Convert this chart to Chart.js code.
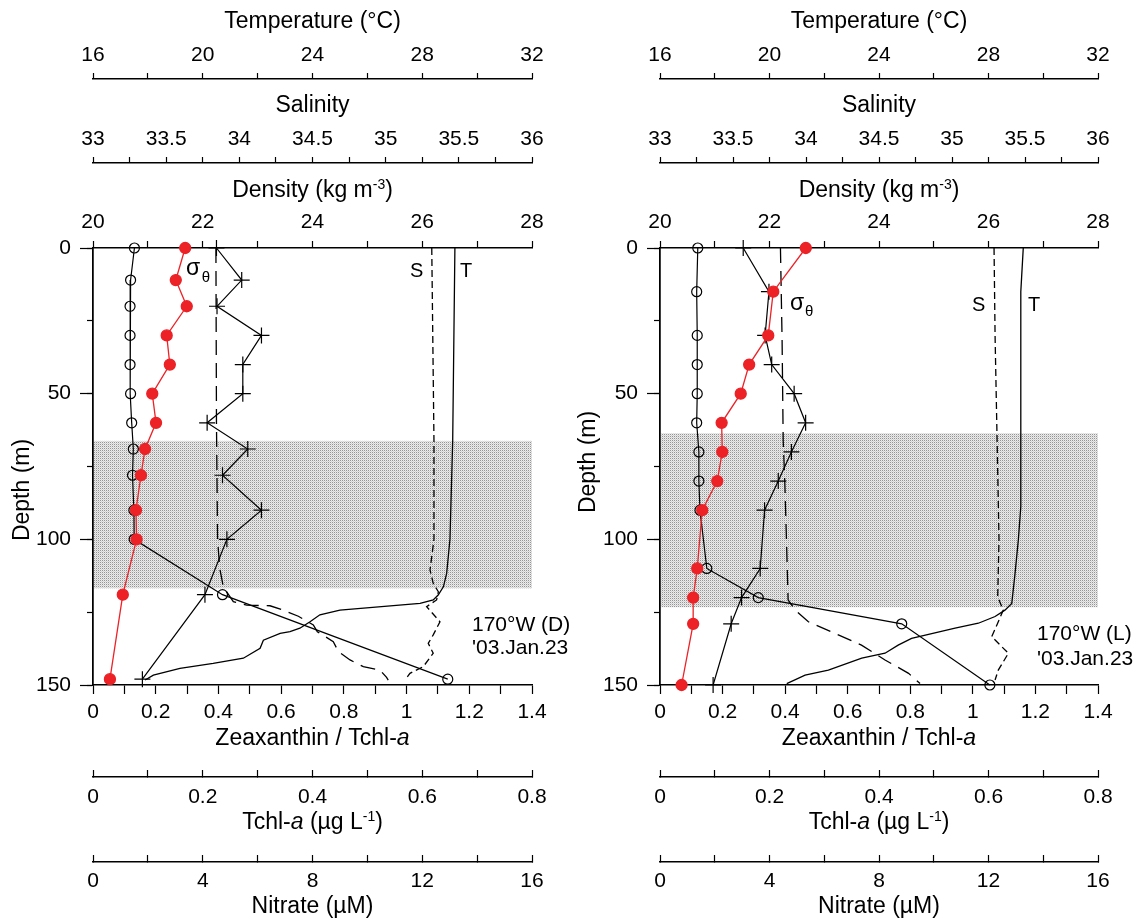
<!DOCTYPE html>
<html>
<head>
<meta charset="UTF-8">
<title>170°W profiles</title>
<script src="https://cdn.jsdelivr.net/npm/chart.js@4.4.1/dist/chart.umd.min.js"></script>
<style>
body { margin: 0; background: #fff; }
canvas { position: absolute; top: 0; }
#left { left: 0; }
#right { left: 570px; }
</style>
</head>
<body>
<canvas id="left" width="600" height="924"></canvas>
<canvas id="right" width="575" height="924"></canvas>
<script>
// ---- station D (bottle samples) ----
var depthD   = [0, 11, 20, 30, 40, 50, 60, 69, 78, 90, 100, 119, 148];
var nitrateD = [1.51, 1.37, 1.35, 1.35, 1.35, 1.37, 1.41, 1.47, 1.44, 1.49, 1.50, 4.72, 12.93];
var zeaD     = [0.294, 0.264, 0.299, 0.235, 0.245, 0.189, 0.201, 0.166, 0.153, 0.137, 0.139, 0.095, 0.054];
var tchlD    = [0.225, 0.271, 0.226, 0.307, 0.273, 0.273, 0.208, 0.282, 0.236, 0.307, 0.244, 0.204, 0.090];
// CTD
var tDepthD = [0, 66, 100, 111.7, 116.3, 119.1, 120.8, 122, 124.3, 125.9, 128.3, 130.5, 131.7, 132.3, 134.6, 137.4, 140.8, 142.6, 144.3, 146.6, 148.3];
var tempD   = [29.19, 29.11, 29.01, 28.89, 28.77, 28.58, 28.40, 27.92, 25.00, 24.27, 23.91, 23.54, 23.18, 22.82, 22.21, 22.09, 21.48, 20.38, 19.17, 18.20, 17.90];
var sDepthD = [0, 66, 100, 103.6, 110.5, 115.1, 118, 120.8, 123.1, 128.3, 132.8, 135.7, 139.1, 143.7, 146, 148.3];
var salD    = [35.315, 35.33, 35.33, 35.321, 35.303, 35.325, 35.36, 35.348, 35.28, 35.371, 35.325, 35.291, 35.325, 35.257, 35.166, 35.132];
var dDepthD = [0, 60, 100, 110, 116.3, 121.4, 122.6, 122.8, 124.3, 126.4, 129.4, 131.7, 135.1, 138.5, 141.4, 143.7, 144.9, 147.4, 148.3];
var sigmaD  = [22.24, 22.25, 22.27, 22.31, 22.375, 22.557, 22.80, 23.225, 23.468, 23.742, 24.015, 24.088, 24.379, 24.47, 24.684, 24.926, 25.23, 25.35, 25.38];
var bandD   = [66.2, 116.8];

// ---- station L ----
var depthL   = [0, 15, 30, 40, 50, 60, 70, 80, 90, 110, 120, 129, 150];
var nitrateL = [1.38, 1.34, 1.36, 1.36, 1.36, 1.34, 1.42, 1.42, 1.46, 1.71, 3.59, 8.83, 12.05];
var zeaL     = [0.466, 0.362, 0.346, 0.285, 0.258, 0.197, 0.199, 0.183, 0.135, 0.119, 0.106, 0.106, 0.069];
var tchlL    = [0.152, 0.199, 0.192, 0.204, 0.245, 0.266, 0.240, 0.216, 0.191, 0.183, 0.149, 0.130, 0.097];
var tDepthL = [0, 10, 15, 88.8, 100.2, 111.7, 122, 124.3, 126.5, 128.8, 130.5, 134, 136.3, 139.1, 140.8, 144.9, 146.6, 149.5];
var tempL   = [29.27, 29.21, 29.18, 29.18, 29.09, 28.97, 28.85, 28.60, 28.24, 27.63, 26.78, 25.19, 24.70, 24.22, 23.37, 22.15, 21.30, 20.63];
var sDepthL = [0, 30, 100, 119.7, 124.3, 128.3, 133.4, 139.1, 144.9, 148.3];
var salL    = [35.288, 35.295, 35.322, 35.313, 35.351, 35.317, 35.272, 35.386, 35.317, 35.295];
var dDepthL = [0, 31.6, 66, 80.7, 100.2, 120.8, 124.3, 128.3, 132.3, 136.3, 141.4, 146, 149.5];
var sigmaL  = [22.20, 22.23, 22.25, 22.28, 22.31, 22.34, 22.47, 22.71, 23.20, 23.68, 24.11, 24.54, 24.75];
var bandL   = [63.6, 123.3];

Chart.defaults.font.family = '"Liberation Sans", Arial, sans-serif';
Chart.defaults.color = '#000';

var FAM = '"Liberation Sans", Arial, sans-serif';
var tickFont = {size: 21};
var red = '#ec2227';

function pts(xs, ys) {
  return xs.map(function (v, i) { return {x: v, y: ys[i]}; });
}

function hAxis(pos, weight, min, max, step, every, h, tl, pad) {
  return {
    type: 'linear', position: pos, weight: weight, min: min, max: max,
    ticks: {
      stepSize: step, autoSkip: false, maxRotation: 0, padding: pad, font: tickFont, color: '#000',
      callback: function (v) {
        var r = Math.round(v / every * 1000) / 1000;
        return Number.isInteger(r) ? String(+v.toFixed(2)) : '';
      }
    },
    grid: {drawOnChartArea: false, tickLength: tl, color: '#000', tickWidth: 1.2},
    border: {color: '#000', width: 1.5},
    afterFit: function (s) { s.height = h; }
  };
}

function vAxis(weight, step, tl, labels, w) {
  return {
    type: 'linear', position: 'left', weight: weight, reverse: true, min: 0, max: 150,
    ticks: {stepSize: step, display: labels, padding: 9, font: tickFont, color: '#000', autoSkip: false},
    grid: {drawOnChartArea: false, tickLength: tl, color: '#000', tickWidth: 1.2},
    border: {color: '#000', width: 1.5},
    afterFit: function (s) { s.width = w; }
  };
}

var axisTitles = [
  {scale: 'xT', from: 'top', off: 28, runs: [['Temperature (°C)']]},
  {scale: 'xS', from: 'top', off: 33, runs: [['Salinity']]},
  {scale: 'xD', from: 'top', off: 34, runs: [['Density (kg m'], ['-3', 'sup'], [')']]},
  {scale: 'xZ', from: 'bottom', off: 32, runs: [['Zeaxanthin / Tchl-'], ['a', 'i']]},
  {scale: 'xC', from: 'bottom', off: 33, runs: [['Tchl-'], ['a', 'i'], [' (µg L'], ['-1', 'sup'], [')']]},
  {scale: 'xN', from: 'bottom', off: 11, runs: [['Nitrate (µM)']]}
];

function runFont(kind) {
  if (kind === 'i') return 'italic 23px ' + FAM;
  if (kind === 'sup') return '14px ' + FAM;
  return '23px ' + FAM;
}

function drawRuns(ctx, runs, cx, y) {
  var w = 0;
  runs.forEach(function (r) { ctx.font = runFont(r[1]); w += ctx.measureText(r[0]).width; });
  var x = cx - w / 2;
  runs.forEach(function (r) {
    ctx.font = runFont(r[1]);
    ctx.fillText(r[0], x, r[1] === 'sup' ? y - 8 : y);
    x += ctx.measureText(r[0]).width;
  });
}

function makePattern() {
  var c = document.createElement('canvas');
  c.width = 2; c.height = 2;
  var g = c.getContext('2d');
  g.fillStyle = '#ebebeb'; g.fillRect(0, 0, 2, 2);
  g.fillStyle = '#959595'; g.fillRect(0, 0, 1, 1);
  g.fillStyle = '#d2d2d2'; g.fillRect(1, 1, 1, 1);
  return c;
}

function decor(st) {
  return {
    id: 'decor',
    beforeDatasetsDraw: function (chart) {
      var ctx = chart.ctx, a = chart.chartArea, y = chart.scales.y;
      var y0 = y.getPixelForValue(st.band[0]), y1 = y.getPixelForValue(st.band[1]);
      ctx.save();
      ctx.fillStyle = ctx.createPattern(makePattern(), 'repeat');
      ctx.fillRect(a.left + 1, y0, a.right - a.left - 1, y1 - y0);
      ctx.restore();
    },
    afterDraw: function (chart) {
      var ctx = chart.ctx, a = chart.chartArea, sc = chart.scales;
      ctx.save();
      ctx.fillStyle = '#000';
      ctx.textBaseline = 'alphabetic';
      ctx.textAlign = 'left';
      var cx = (a.left + a.right) / 2;
      axisTitles.forEach(function (t) {
        var s = sc[t.scale];
        var by = t.from === 'top' ? s.top + t.off : s.bottom - t.off;
        drawRuns(ctx, t.runs, cx, by);
      });
      // depth title
      ctx.save();
      ctx.translate(st.depthTitle[0], st.depthTitle[1]);
      ctx.rotate(-Math.PI / 2);
      drawRuns(ctx, [['Depth (m)']], 0, 0);
      ctx.restore();
      // annotations
      st.notes.forEach(function (n) {
        ctx.font = n[3] + 'px ' + FAM;
        ctx.fillText(n[0], sc.xZ.getPixelForValue(n[1]), sc.y.getPixelForValue(n[2]));
      });
      ctx.restore();
    }
  };
}

function drawStation(id, st) {
  new Chart(document.getElementById(id), {
    type: 'scatter',
    data: {
      datasets: [
        {label: 'Zeaxanthin / Tchl-a', data: pts(st.zea, st.depth), xAxisID: 'xZ', yAxisID: 'y',
         showLine: true, borderColor: red, borderWidth: 1.3, pointBackgroundColor: red, pointBorderColor: red,
         pointRadius: 5.5, clip: false},
        {label: 'Nitrate', data: pts(st.nitrate, st.depth), xAxisID: 'xN', yAxisID: 'y',
         showLine: true, borderColor: '#000', borderWidth: 1.2, pointBackgroundColor: 'rgba(0,0,0,0)',
         pointBorderColor: '#000', pointBorderWidth: 1.2, pointRadius: 5, clip: false},
        {label: 'Tchl-a', data: pts(st.tchl, st.depth), xAxisID: 'xC', yAxisID: 'y',
         showLine: true, borderColor: '#000', borderWidth: 1.2, pointStyle: 'cross',
         pointBorderColor: '#000', pointBorderWidth: 1.2, pointRadius: 8, clip: false},
        {label: 'T', data: pts(st.temp, st.tDepth), xAxisID: 'xT', yAxisID: 'y',
         showLine: true, borderColor: '#000', borderWidth: 1.3, pointRadius: 0, clip: false},
        {label: 'S', data: pts(st.sal, st.sDepth), xAxisID: 'xS', yAxisID: 'y',
         showLine: true, borderColor: '#000', borderWidth: 1.3, borderDash: [7, 4], pointRadius: 0, clip: false},
        {label: 'sigma-theta', data: pts(st.sigma, st.dDepth), xAxisID: 'xD', yAxisID: 'y',
         showLine: true, borderColor: '#000', borderWidth: 1.3, borderDash: [15, 8], pointRadius: 0, clip: false}
      ]
    },
    options: {
      responsive: false,
      animation: false,
      events: [],
      layout: {padding: {left: 0, top: 0, right: st.padRight, bottom: 0}},
      plugins: {legend: {display: false}, tooltip: {enabled: false}},
      elements: {line: {tension: 0}},
      scales: {
        y: vAxis(1, 50, 13, true, st.yWidth),
        y2: vAxis(0, 25, 6, false, 0),
        xT: hAxis('top', 2, 16, 32, 2, 4, 79, 6, 5),
        xS: hAxis('top', 1, 33, 36, 0.25, 0.5, 84, 6, 5),
        xD: hAxis('top', 0, 20, 28, 1, 2, 85, 7, 6),
        xZ: hAxis('bottom', 0, 0, 1.4, 0.1, 0.2, 92, 9, 6),
        xC: hAxis('bottom', 1, 0, 0.8, 0.1, 0.2, 85, -7, 15),
        xN: hAxis('bottom', 2, 0, 16, 2, 4, 62, -7, 14)
      }
    },
    plugins: [decor(st)]
  });
}

drawStation('left', {
  depth: depthD, nitrate: nitrateD, zea: zeaD, tchl: tchlD,
  tDepth: tDepthD, temp: tempD, sDepth: sDepthD, sal: salD, dDepth: dDepthD, sigma: sigmaD,
  band: bandD, yWidth: 93, padRight: 600 - 532, depthTitle: [29, 490],
  notes: [
    ['σ', 0.2966, 9.27, 23], ['θ', 0.3466, 11.57, 15],
    ['S', 1.011, 9.95, 20], ['T', 1.170, 9.95, 20],
    ['170°W (D)', 1.2087, 131.46, 21], ["'03.Jan.23", 1.2087, 139.36, 21]
  ]
});

drawStation('right', {
  depth: depthL, nitrate: nitrateL, zea: zeaL, tchl: tchlL,
  tDepth: tDepthL, temp: tempL, sDepth: sDepthL, sal: salL, dDepth: dDepthL, sigma: sigmaL,
  band: bandL, yWidth: 90, padRight: 575 - 528, depthTitle: [25, 462],
  notes: [
    ['σ', 0.4155, 21.28, 23], ['θ', 0.4635, 23.34, 15],
    ['S', 0.9973, 21.62, 20], ['T', 1.1763, 21.62, 20],
    ['170°W (L)', 1.205, 134.55, 21], ["'03.Jan.23", 1.205, 143.14, 21]
  ]
});
</script>
</body>
</html>
